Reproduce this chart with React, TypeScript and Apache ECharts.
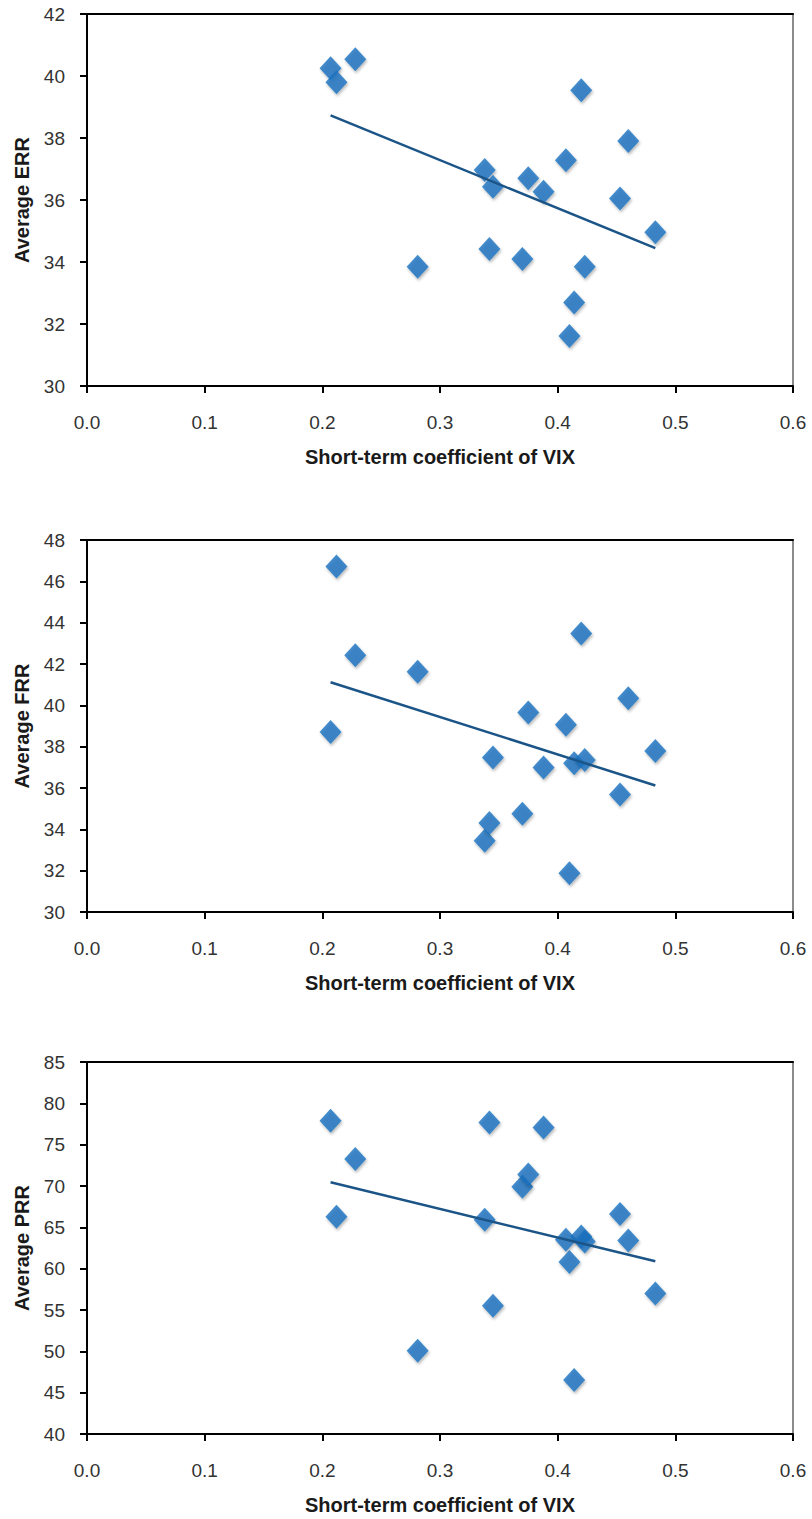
import React, { useEffect, useRef } from "react";
import * as echarts from "echarts";

const xCoef = [0.207, 0.212, 0.228, 0.281, 0.338, 0.342, 0.345, 0.37, 0.375, 0.388, 0.407, 0.41, 0.414, 0.42, 0.423, 0.453, 0.46, 0.483];
const errValues = [40.25, 39.8, 40.54, 33.85, 36.97, 34.42, 36.43, 34.1, 36.7, 36.27, 37.28, 31.61, 32.69, 39.54, 33.85, 36.05, 37.9, 34.96];
const frrValues = [38.71, 46.72, 42.42, 41.62, 33.45, 34.31, 37.47, 34.76, 39.65, 36.99, 39.06, 31.88, 37.2, 43.48, 37.35, 35.68, 40.34, 37.79];
const prrValues = [77.88, 66.28, 73.28, 50.08, 65.92, 77.68, 55.52, 69.92, 71.4, 77.08, 63.5, 60.8, 46.52, 63.9, 63.3, 66.6, 63.4, 57.0];

const xTicks = { min: 0, max: 0.6, interval: 0.1 };
const panels = [
  { name: "Average ERR", values: errValues, min: 30, max: 42, interval: 2 },
  { name: "Average FRR", values: frrValues, min: 30, max: 48, interval: 2 },
  { name: "Average PRR", values: prrValues, min: 40, max: 85, interval: 5 },
];
const xName = "Short-term coefficient of VIX";

const gridTops = [14, 540, 1062];
const gridHeight = 372;

function regression(xs: number[], ys: number[]) {
  const n = xs.length;
  const mx = xs.reduce((a, b) => a + b, 0) / n;
  const my = ys.reduce((a, b) => a + b, 0) / n;
  let sxy = 0, sxx = 0;
  for (let i = 0; i < n; i++) {
    sxy += (xs[i] - mx) * (ys[i] - my);
    sxx += (xs[i] - mx) * (xs[i] - mx);
  }
  const b = sxy / sxx;
  const a = my - b * mx;
  const x0 = Math.min(...xs);
  const x1 = Math.max(...xs);
  return [[x0, a + b * x0], [x1, a + b * x1]];
}

const FONT = "'Liberation Sans', Arial, sans-serif";

export default function App() {
  const ref = useRef<HTMLDivElement>(null);
  useEffect(() => {
    if (!ref.current) return;
    const chart = echarts.init(ref.current, undefined, { renderer: "svg" });
    const grids: any[] = [];
    const xAxes: any[] = [];
    const yAxes: any[] = [];
    const series: any[] = [];
    panels.forEach((p, i) => {
      grids.push({ left: 87, width: 706, top: gridTops[i], height: gridHeight, containLabel: false });
      xAxes.push({
        type: "value", gridIndex: i, position: "bottom",
        min: xTicks.min, max: xTicks.max, interval: xTicks.interval,
        name: xName, nameLocation: "middle", nameGap: 61,
        nameTextStyle: { fontFamily: FONT, fontWeight: "bold", fontSize: 20, color: "#1a1a1a" },
        axisLine: { show: true, onZero: false, lineStyle: { color: "#000", width: 2 } },
        axisTick: { show: true, length: 7, lineStyle: { color: "#000", width: 2 } },
        axisLabel: { margin: 27, fontFamily: FONT, fontSize: 19, color: "#333", formatter: (v: number) => v.toFixed(1) },
        splitLine: { show: false },
      });
      xAxes.push({
        type: "value", gridIndex: i, position: "top",
        min: xTicks.min, max: xTicks.max, interval: xTicks.interval,
        axisLine: { show: true, onZero: false, lineStyle: { color: "#000", width: 2 } },
        axisTick: { show: false }, axisLabel: { show: false }, splitLine: { show: false },
      });
      yAxes.push({
        type: "value", gridIndex: i, position: "left",
        min: p.min, max: p.max, interval: p.interval,
        name: p.name, nameLocation: "middle", nameGap: 55, nameRotate: 90,
        nameTextStyle: { fontFamily: FONT, fontWeight: "bold", fontSize: 20, color: "#1a1a1a" },
        axisLine: { show: true, onZero: false, lineStyle: { color: "#000", width: 2 } },
        axisTick: { show: true, length: 7, lineStyle: { color: "#000", width: 2 } },
        axisLabel: { margin: 22, fontFamily: FONT, fontSize: 19, color: "#333" },
        splitLine: { show: false },
      });
      yAxes.push({
        type: "value", gridIndex: i, position: "right",
        min: p.min, max: p.max, interval: p.interval,
        axisLine: { show: true, onZero: false, lineStyle: { color: "#8c8c8c", width: 2 } },
        axisTick: { show: false }, axisLabel: { show: false }, splitLine: { show: false },
      });
      series.push({
        type: "scatter", xAxisIndex: i * 2, yAxisIndex: i * 2,
        symbol: "diamond", symbolSize: [22, 24],
        itemStyle: { color: "#1570bf", shadowBlur: 3, shadowColor: "rgba(0,0,0,0.35)", shadowOffsetX: 1, shadowOffsetY: 2 },
        data: xCoef.map((x, k) => [x, p.values[k]]),
        z: 3,
      });
      series.push({
        type: "line", xAxisIndex: i * 2, yAxisIndex: i * 2,
        showSymbol: false, symbol: "none",
        lineStyle: { color: "#1b5487", width: 2.5 },
        data: regression(xCoef, p.values),
        z: 4,
      });
    });
    chart.setOption({
      animation: false,
      backgroundColor: "#fff",
      grid: grids,
      xAxis: xAxes,
      yAxis: yAxes,
      series,
    });
    return () => chart.dispose();
  }, []);
  return <div ref={ref} style={{ position: "absolute", left: 0, top: 0, width: 812, height: 1519 }} />;
}
